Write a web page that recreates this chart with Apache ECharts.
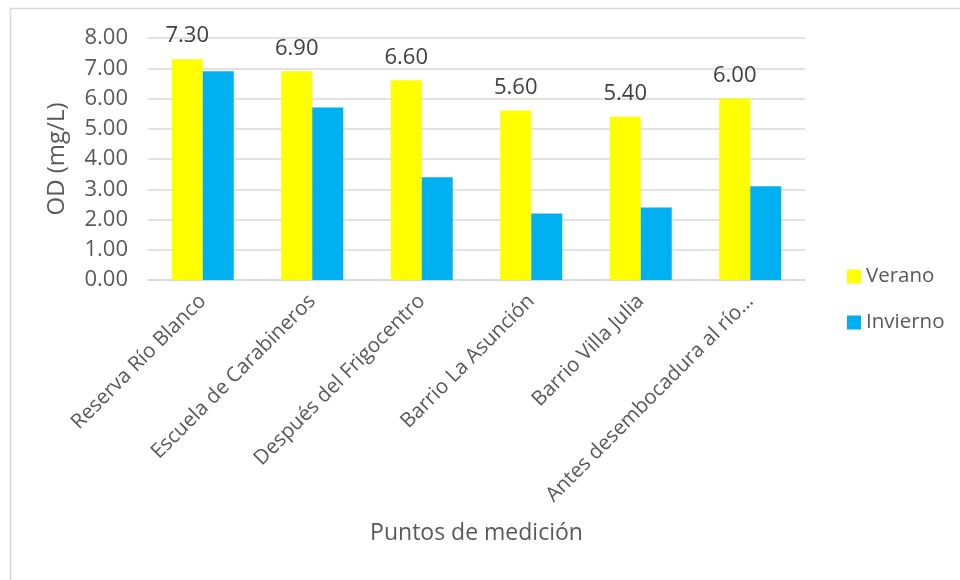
<!DOCTYPE html>
<html><head><meta charset="utf-8">
<script src="https://cdn.jsdelivr.net/npm/echarts@6/dist/echarts.min.js"></script>
<style>html,body{margin:0;padding:0;background:#fff}#c{width:960px;height:580px}</style>
</head><body><div id="c"></div>
<script>
var categories = ["Reserva Río Blanco","Escuela de Carabineros","Después del Frigocentro","Barrio La Asunción","Barrio Villa Julia","Antes desembocadura al río…"];
var verano = [7.30, 6.90, 6.60, 5.60, 5.40, 6.00];
var invierno = [6.90, 5.70, 3.40, 2.20, 2.40, 3.10];
var seriesNames = ["Verano","Invierno"];
var yTicks = {min:0, max:8, interval:1};

var font = "'Open Sans', sans-serif";
var txt = '#595959';
var chart = echarts.init(document.getElementById('c'));
chart.setOption({
  animation:false,
  textStyle:{fontFamily:font},
  graphic:[{type:'rect', shape:{x:10.5,y:8.5,width:1000,height:1000}, style:{fill:'none',stroke:'#d9d9d9',lineWidth:1.5}, silent:true}],
  grid:{left:148,right:155,top:38,bottom:300,containLabel:false},
  legend:{orient:'vertical', left:842, top:261, itemGap:25, itemWidth:14, itemHeight:14, icon:'rect',
    textStyle:{fontFamily:font, fontSize:20.5, color:txt}, data:seriesNames},
  xAxis:{type:'category', data:categories,
    axisLine:{show:true, lineStyle:{color:'#d9d9d9', width:1.5}}, axisTick:{show:false},
    axisLabel:{rotate:45, interval:0, margin:18, fontFamily:font, fontSize:20.5, color:txt},
    name:'Puntos de medición', nameLocation:'middle', nameGap:242,
    nameTextStyle:{fontFamily:font, fontSize:23, color:txt}},
  yAxis:{type:'value', min:yTicks.min, max:yTicks.max, interval:yTicks.interval,
    axisLine:{show:false}, axisTick:{show:false},
    splitLine:{lineStyle:{color:'#d9d9d9', width:1.5}},
    axisLabel:{formatter:function(v){return v.toFixed(2);}, margin:20, fontFamily:font, fontSize:22, color:txt},
    name:'OD (mg/L)', nameLocation:'middle', nameGap:79, nameRotate:90,
    nameTextStyle:{fontFamily:font, fontSize:24, color:txt}},
  series:[
    {name:seriesNames[0], type:'bar', data:verano, barWidth:31, barGap:'0%', itemStyle:{color:'#ffff00'},
     label:{show:true, position:'top', distance:12, formatter:function(p){return p.value.toFixed(2);}, fontFamily:font, fontSize:22, color:'#404040'}},
    {name:seriesNames[1], type:'bar', data:invierno, barWidth:31, barGap:'0%', itemStyle:{color:'#00b0f0'}}
  ]
});
</script></body></html>
